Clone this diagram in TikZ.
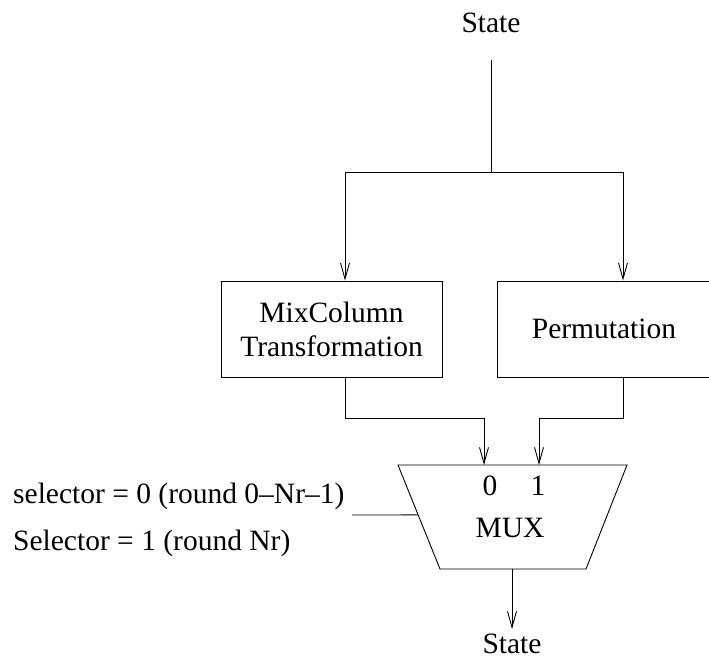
\documentclass[tikz,border=0pt]{standalone}
\usepackage{fontspec}
\setmainfont{Liberation Serif}
\usetikzlibrary{arrows.meta,calc}
\begin{document}
\begin{tikzpicture}[x=1pt,y=-1pt,
  wire/.style={line width=0.9pt},
  arr/.style={wire,-{Straight Barb[length=16pt,width=9pt,line width=0.9pt]}},
  txt/.style={font=\fontsize{29.5}{34}\selectfont,inner sep=0pt},
  block/.style={draw,line width=0.9pt,txt,align=center,inner sep=0pt}]
\useasboundingbox (0,0) rectangle (709,659);

% input state and fan-out
\node[txt,anchor=base] (sin) at (491,32) {State};
\coordinate (top) at (491,60);
\coordinate (split) at (491,172);

% the two transformation blocks
\node[block,minimum width=221pt,minimum height=96pt] (mix) at (331.5,329)
  {MixColumn\\Transformation};
\node[block,minimum width=214pt,minimum height=96pt] (perm) at (604,329)
  {Permutation};

% multiplexer outline
\coordinate (tl) at (398,465);
\coordinate (tr) at (627,465);
\coordinate (br) at (586,569);
\coordinate (bl) at (440,569);
\draw[wire] (tl) -- (tr) -- (br) -- (bl) -- cycle;
\coordinate (in0) at (484,465);
\coordinate (in1) at (539,465);
\coordinate (mout) at (512,569);
\node[txt,anchor=base] (l0) at (490,495) {0};
\node[txt,anchor=base] (l1) at (538,495) {1};
\node[txt,anchor=base] (mux) at (510,537) {MUX};

% selector input
\node[txt,anchor=base west] (sel0) at (13,503) {selector = 0 (round 0–Nr–1)};
\node[txt,anchor=base west] (sel1) at (13,550) {Selector = 1 (round Nr)};
\coordinate (selend) at (352,515);
\coordinate (selin) at ($(tl)!0.48!(bl)$);

% output state
\coordinate (oend) at (512,629);
\node[txt,anchor=base] (sout) at (512,653) {State};

% connections
\draw[wire] (top) -- (split);
\draw[arr] (split) -| ([xshift=13.5pt]mix.north);
\draw[arr] (split) -| ([xshift=19pt]perm.north);
\draw[arr] ([xshift=13.5pt]mix.south) |- ([yshift=47pt]in0) -- (in0);
\draw[arr] ([xshift=19pt]perm.south) |- ([yshift=47pt]in1) -- (in1);
\draw[wire] (selend) -- (selin);
\draw[arr] (mout) -- (oend);
\end{tikzpicture}
\end{document}
